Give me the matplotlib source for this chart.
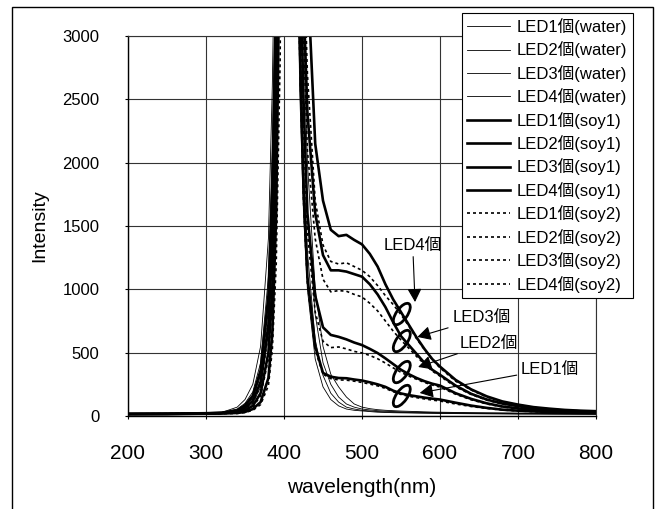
import matplotlib
matplotlib.use("Agg")
import matplotlib.pyplot as plt
import matplotlib.transforms as mtransforms
from matplotlib.patches import Ellipse, Rectangle

plt.rcParams['font.family'] = ['Liberation Sans', 'Noto Sans CJK JP']
plt.rcParams['font.size'] = 12

# wavelength grid (nm)
wl = [200, 250, 300, 320, 340, 350, 360, 370, 380, 385, 390, 395, 400, 405, 410, 415,
      420, 425, 430, 440, 450, 460, 470, 480, 490, 500, 510, 520, 530, 540, 550, 560,
      570, 580, 590, 600, 620, 640, 660, 680, 700, 720, 740, 760, 780, 800]

water1 = [12, 14, 18, 22, 35, 55, 100, 230, 650, 1300, 2700, 6000, 9000, 9000, 8500, 5000,
          2600, 1600, 1000, 450, 230, 130, 80, 55, 45, 40, 35, 30, 28, 26, 25, 24,
          23, 22, 21, 20, 19, 18, 17, 16, 15, 15, 14, 14, 13, 13]
water2 = [13, 15, 19, 24, 45, 75, 140, 320, 850, 1700, 3200, 6500, 9500, 9500, 9000, 5800,
          3200, 2000, 1300, 600, 320, 180, 110, 70, 55, 45, 40, 35, 32, 30, 28, 27,
          26, 25, 24, 23, 22, 21, 20, 19, 18, 17, 17, 16, 16, 15]
water3 = [14, 16, 20, 26, 55, 100, 190, 420, 1100, 2100, 3800, 7000, 10000, 10000, 9500, 6500,
          3800, 2500, 1600, 800, 420, 250, 150, 95, 70, 55, 48, 42, 38, 35, 33, 31,
          30, 28, 27, 26, 25, 24, 23, 22, 21, 20, 19, 18, 18, 17]
water4 = [15, 17, 22, 28, 70, 130, 250, 550, 1400, 2600, 4500, 7500, 10500, 10500, 10000, 7200,
          4500, 3000, 2000, 1000, 550, 330, 230, 150, 95, 70, 58, 50, 45, 42, 39, 37,
          35, 33, 31, 30, 28, 26, 25, 24, 23, 22, 21, 20, 19, 19]

soy1_1 = [15, 16, 18, 20, 24, 32, 55, 110, 300, 650, 1600, 4000, 8000, 8500, 8000, 5200,
          3000, 1800, 1100, 550, 340, 310, 300, 298, 288, 280, 266, 250, 230, 200, 178, 165,
          155, 145, 137, 130, 105, 82, 64, 50, 42, 36, 32, 29, 27, 25]
soy1_2 = [15, 16, 19, 22, 28, 45, 80, 180, 500, 1000, 2200, 5000, 9000, 9500, 9000, 6000,
          3800, 2500, 1600, 950, 700, 640, 625, 605, 580, 560, 530, 497, 455, 410, 365, 330,
          300, 275, 255, 240, 180, 135, 100, 75, 60, 48, 40, 34, 30, 28]
soy1_3 = [16, 17, 20, 24, 35, 65, 120, 270, 720, 1400, 2800, 5800, 10000, 10500, 10000, 7000,
          4600, 3300, 2400, 1600, 1270, 1150, 1150, 1140, 1120, 1100, 1040, 960, 860, 740, 630, 560,
          490, 420, 365, 325, 240, 175, 130, 98, 78, 60, 50, 42, 37, 33]
soy1_4 = [17, 18, 22, 26, 45, 85, 160, 360, 950, 1800, 3300, 6500, 11000, 11500, 11000, 8000,
          5500, 4300, 3500, 2150, 1700, 1470, 1420, 1430, 1390, 1355, 1280, 1180, 1040, 920, 820, 720,
          620, 530, 450, 390, 285, 210, 155, 115, 90, 70, 58, 48, 42, 38]

soy2_1 = [14, 15, 17, 19, 20, 28, 45, 90, 240, 520, 1200, 2800, 7000, 8000, 7500, 5000,
          2900, 1700, 1050, 520, 330, 295, 285, 283, 275, 265, 252, 238, 218, 192, 170, 156,
          145, 135, 126, 118, 95, 75, 60, 47, 40, 34, 30, 27, 25, 24]
soy2_2 = [15, 16, 18, 21, 26, 40, 70, 160, 450, 900, 2000, 4500, 8500, 9000, 8500, 5800,
          3600, 2300, 1450, 820, 590, 540, 545, 530, 510, 498, 478, 452, 418, 380, 345, 315,
          290, 265, 245, 228, 172, 128, 95, 72, 57, 46, 38, 33, 29, 27]
soy2_3 = [16, 17, 19, 23, 32, 58, 105, 240, 650, 1300, 2600, 5500, 9500, 10000, 9500, 6800,
          4300, 3000, 2100, 1400, 1080, 980, 990, 985, 960, 940, 890, 830, 750, 670, 600, 535,
          470, 410, 355, 315, 230, 170, 125, 95, 75, 58, 48, 40, 35, 32]
soy2_4 = [17, 18, 21, 25, 42, 78, 150, 330, 880, 1700, 3100, 6200, 10500, 11000, 10500, 7600,
          5000, 3700, 2700, 1700, 1350, 1220, 1200, 1210, 1180, 1150, 1100, 1030, 950, 880, 800, 710,
          610, 525, 445, 380, 275, 205, 150, 112, 88, 68, 55, 46, 40, 36]

water = [water1, water2, water3, water4]
soy1 = [soy1_1, soy1_2, soy1_3, soy1_4]
soy2 = [soy2_1, soy2_2, soy2_3, soy2_4]

# annotation labels: (text, text pos, arrow tip) in data coords
notes = [("LED4個", (565, 1350), (568, 900)),
         ("LED3個", (653, 774), (571, 624)),
         ("LED2個", (663, 576), (572, 387)),
         ("LED1個", (741, 371), (574, 182))]
ellipse_centers = [(551, 805), (551, 592), (551, 347), (551, 158)]

fig = plt.figure(figsize=(6.58, 5.09), dpi=100)
ax = fig.add_axes([128 / 658, 1 - 416 / 509, 468 / 658, 380 / 509])

for i, y in enumerate(water):
    ax.plot(wl, y, color='black', lw=0.6, label="LED%d個(water)" % (i + 1))
for i, y in enumerate(soy1):
    ax.plot(wl, y, color='black', lw=1.9, label="LED%d個(soy1)" % (i + 1))
for i, y in enumerate(soy2):
    ax.plot(wl, y, color='black', lw=1.2, ls=(0, (1.8, 1.8)), label="LED%d個(soy2)" % (i + 1))

ax.set_xlim(200, 800)
ax.set_ylim(0, 3000)
ax.set_xticks(range(200, 801, 100))
ax.set_yticks(range(0, 3001, 500))
ax.grid(True, color='#333333', lw=0.8)
ax.set_axisbelow(True)
for s in ['top', 'right']:
    ax.spines[s].set_color('#333333')
    ax.spines[s].set_linewidth(0.8)
for s in ['left', 'bottom']:
    ax.spines[s].set_color('black')
    ax.spines[s].set_linewidth(1.0)
ax.tick_params(axis='y', length=2.5, pad=18, labelsize=12)
ax.tick_params(axis='x', length=2.5, pad=18, labelsize=15)

ax.set_xlabel("wavelength(nm)", fontsize=15)
ax.set_ylabel("Intensity", fontsize=14)
ax.xaxis.set_label_coords(0.5, -0.163)
ax.yaxis.set_label_coords(-0.171, 0.5)

for text, pos, tip in notes:
    ax.annotate(text, xy=tip, xytext=pos, ha='center', va='center',
                arrowprops=dict(arrowstyle="-|>,head_length=0.45,head_width=0.24",
                                color='black', lw=0.8, mutation_scale=18,
                                shrinkA=1, shrinkB=0))

for cx, cy in ellipse_centers:
    tr = mtransforms.Affine2D() + mtransforms.ScaledTranslation(cx, cy, ax.transData)
    ax.add_artist(Ellipse((0, 0), 25, 11, angle=55, transform=tr, fill=False,
                          ec='black', lw=2.0, clip_on=False))

leg = ax.legend(loc='upper left', bbox_to_anchor=(462 / 658, 1 - 13 / 509),
                bbox_transform=fig.transFigure, borderaxespad=0, frameon=True,
                fancybox=False, framealpha=1, edgecolor='black', borderpad=0.3,
                labelspacing=0.39, handlelength=2.6, handletextpad=0.4)
leg.get_frame().set_linewidth(0.8)

fig.add_artist(Rectangle((12 / 658, -0.1), (653 - 12) / 658, 1.1 - 7 / 509,
                         transform=fig.transFigure, fill=False, ec='black', lw=1))

fig.savefig("out.png", dpi=100)
